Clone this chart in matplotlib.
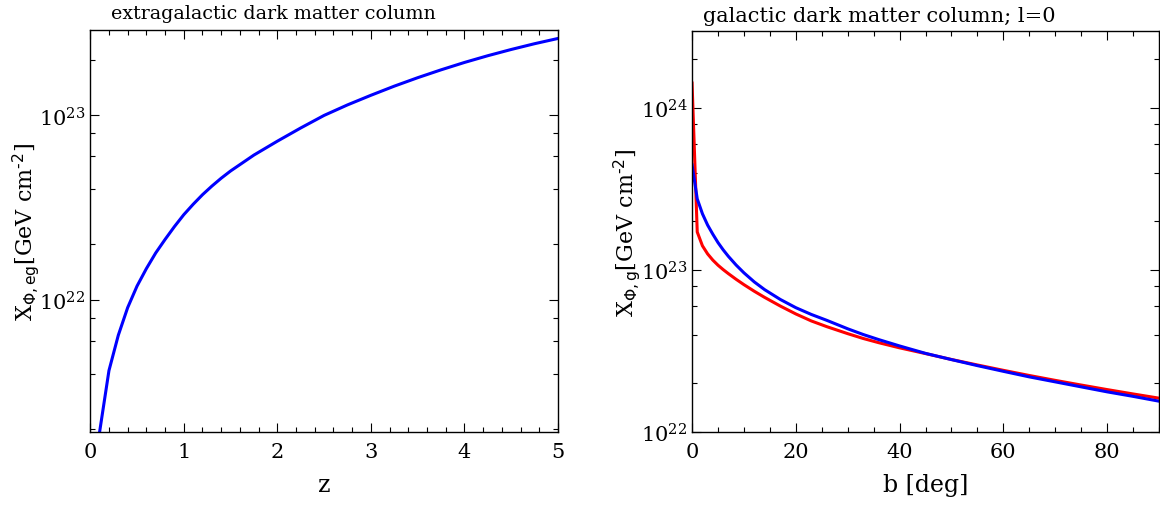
import numpy as np
import matplotlib
matplotlib.use('Agg')
import matplotlib.pyplot as plt
from matplotlib.ticker import LogLocator, NullFormatter, MultipleLocator

plt.rcParams['font.family'] = 'DejaVu Serif'

# extragalactic column vs redshift
z = [0.1, 0.2, 0.3, 0.4, 0.5, 0.6, 0.7, 0.8, 0.9, 1.0, 1.1, 1.2, 1.3, 1.4, 1.5,
     1.75, 2.0, 2.25, 2.5, 2.75, 3.0, 3.25, 3.5, 3.75, 4.0, 4.25, 4.5, 4.75, 5.0]
x_eg = [1.93e21, 4.15e21, 6.45e21, 9.1e21, 1.19e22, 1.48e22, 1.8e22, 2.13e22, 2.5e22, 2.9e22,
        3.3e22, 3.72e22, 4.14e22, 4.57e22, 5.0e22, 6.1e22, 7.25e22, 8.55e22, 1.0e23, 1.14e23,
        1.285e23, 1.44e23, 1.6e23, 1.765e23, 1.935e23, 2.105e23, 2.275e23, 2.445e23, 2.61e23]

# galactic column vs latitude (l=0)
b = [0, 1, 2, 3, 4, 5, 6, 7, 8.5, 10, 12, 14, 17, 20, 23, 26, 30, 33, 36, 40,
     45, 50, 55, 60, 65, 70, 75, 80, 85, 90]
x_g_red = [1.43e24, 1.72e23, 1.413e23, 1.259e23, 1.153e23, 1.072e23, 1.007e23, 9.51e22, 8.77e22, 8.13e22,
           7.4e22, 6.78e22, 6.0e22, 5.36e22, 4.85e22, 4.47e22, 4.05e22, 3.78e22, 3.56e22, 3.31e22,
           3.05e22, 2.805e22, 2.594e22, 2.404e22, 2.234e22, 2.084e22, 1.95e22, 1.828e22, 1.718e22, 1.618e22]
x_g_blue = [4.47e23, 2.754e23, 2.228e23, 1.897e23, 1.667e23, 1.479e23, 1.334e23, 1.216e23, 1.074e23, 9.62e22,
            8.45e22, 7.57e22, 6.59e22, 5.86e22, 5.32e22, 4.89e22, 4.34e22, 4.0e22, 3.72e22, 3.4e22,
            3.06e22, 2.8e22, 2.57e22, 2.37e22, 2.19e22, 2.04e22, 1.9e22, 1.77e22, 1.66e22, 1.55e22]

fig = plt.figure(figsize=(11.6, 5.06), dpi=100)
ax1 = fig.add_axes([0.0778, 0.1443, 0.4032, 0.7944])
ax2 = fig.add_axes([0.5966, 0.1443, 0.4025, 0.7925])


def style(ax):
    ax.set_yscale('log')
    ax.yaxis.set_minor_locator(LogLocator(base=10, subs=[2, 4, 6, 8]))
    ax.yaxis.set_minor_formatter(NullFormatter())
    ax.tick_params(which='both', direction='in', top=True, right=True, width=0.8)
    ax.tick_params(which='major', length=6.5, labelsize=15)
    ax.tick_params(axis='x', which='major', pad=7)
    ax.tick_params(which='minor', length=3.5)
    for s in ax.spines.values():
        s.set_linewidth(1.0)


ax1.plot(z, x_eg, color='blue', lw=2.2)
style(ax1)
ax1.set_xlim(0, 5)
ax1.set_ylim(1.93e21, 2.9e23)
ax1.xaxis.set_minor_locator(MultipleLocator(0.2))
ax1.set_xlabel('z', fontsize=17, labelpad=9)
ax1.set_ylabel(r'X$_{\Phi,\mathrm{eg}}$[GeV cm$^{\text{-2}}$]', fontsize=16, labelpad=-2)
ax1.set_title('extragalactic dark matter column', fontsize=13.7, pad=9, x=0.391)

ax2.plot(b, x_g_red, color='red', lw=2.2)
ax2.plot(b, x_g_blue, color='blue', lw=2.2)
style(ax2)
ax2.set_xlim(0, 90)
ax2.set_ylim(1e22, 3.0e24)
ax2.xaxis.set_major_locator(MultipleLocator(20))
ax2.xaxis.set_minor_locator(MultipleLocator(5))
ax2.set_xlabel('b [deg]', fontsize=17, labelpad=9)
ax2.set_ylabel(r'X$_{\Phi,\mathrm{g}}$[GeV cm$^{\text{-2}}$]', fontsize=16, labelpad=-2)
ax2.set_title('galactic dark matter column; l=0', fontsize=15, pad=7, x=0.400)

plt.savefig('out.png', dpi=100)
